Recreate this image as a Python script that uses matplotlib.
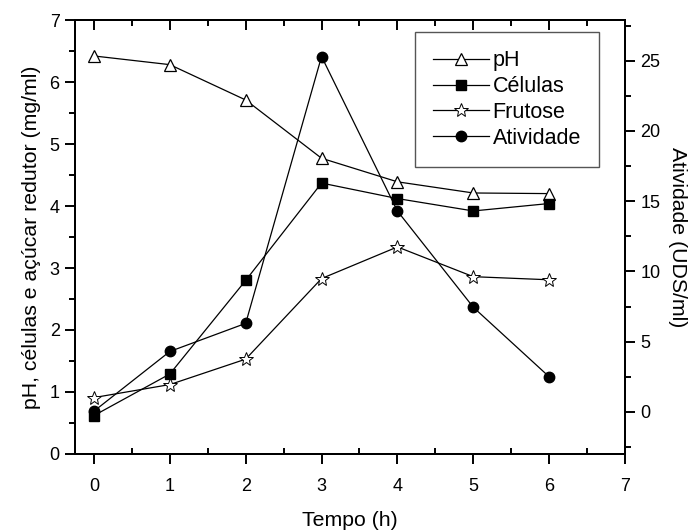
import matplotlib
matplotlib.use("Agg")
import matplotlib.pyplot as plt
from matplotlib.ticker import MultipleLocator

plt.rcParams['font.family'] = ['Liberation Sans', 'DejaVu Sans']

# data
tempo = [0, 1, 2, 3, 4, 5, 6]
ph = [6.42, 6.28, 5.71, 4.77, 4.39, 4.21, 4.20]
celulas = [0.62, 1.29, 2.80, 4.37, 4.12, 3.92, 4.04]
frutose = [0.91, 1.12, 1.53, 2.83, 3.34, 2.86, 2.81]
atividade = [0.05, 4.3, 6.3, 25.3, 14.3, 7.45, 2.5]

fig = plt.figure(figsize=(6.93, 5.31), dpi=100)
ax = fig.add_axes([75 / 693, 77 / 531, 550 / 693, 434 / 531])
ax2 = ax.twinx()

l1, = ax.plot(tempo, ph, '-^', color='black', lw=0.9, ms=8.5, mfc='white', mec='black', mew=0.9, label='pH')
l2, = ax.plot(tempo, celulas, '-s', color='black', lw=0.9, ms=6.5, mfc='black', label='Células')
l3, = ax.plot(tempo, frutose, '-*', color='black', lw=0.9, ms=10, mfc='white', mec='black', mew=0.7, label='Frutose')
l4, = ax2.plot(tempo, atividade, '-o', color='black', lw=0.9, ms=7.5, mfc='black', label='Atividade')

ax.set_xlim(-0.25, 7)
ax.set_ylim(0, 7)
ax2.set_ylim(-3, 27.9)

ax.xaxis.set_major_locator(MultipleLocator(1))
ax.xaxis.set_minor_locator(MultipleLocator(0.5))
ax.yaxis.set_major_locator(MultipleLocator(1))
ax.yaxis.set_minor_locator(MultipleLocator(0.5))
ax2.yaxis.set_major_locator(MultipleLocator(5))
ax2.yaxis.set_minor_locator(MultipleLocator(2.5))

for sp in ax.spines.values():
    sp.set_linewidth(1.4)
for sp in ax2.spines.values():
    sp.set_linewidth(1.4)

ax.tick_params(axis='x', which='major', direction='out', length=7, width=1.4, labelsize=13, pad=10, top=False)
ax.tick_params(axis='x', which='minor', direction='in', length=4, width=1.4, top=False)
ax.tick_params(axis='y', which='major', direction='out', length=7, width=1.4, labelsize=13, pad=4)
ax.tick_params(axis='y', which='minor', direction='out', length=4, width=1.4)
ax2.tick_params(axis='y', which='major', direction='out', length=7, width=1.4, labelsize=13, pad=4)
ax2.tick_params(axis='y', which='minor', direction='out', length=4, width=1.4)

# top axis ticks pointing inward
top = ax.secondary_xaxis('top')
top.xaxis.set_major_locator(MultipleLocator(1))
top.xaxis.set_minor_locator(MultipleLocator(0.5))
top.tick_params(which='major', direction='in', length=7, width=1.4, labeltop=False)
top.tick_params(which='minor', direction='in', length=4, width=1.4)
top.spines['top'].set_linewidth(1.4)

ax.set_xlabel('Tempo (h)', fontsize=15.3, labelpad=12)
ax.set_ylabel('pH, células e açúcar redutor (mg/ml)', fontsize=15.3, labelpad=6)
ax2.set_ylabel('Atividade (UDS/ml)', fontsize=15.3, rotation=270, labelpad=19)

leg = ax2.legend([l1, l2, l3, l4], ['pH', 'Células', 'Frutose', 'Atividade'],
                 loc='upper right', bbox_to_anchor=(0.953, 0.972), borderaxespad=0,
                 fontsize=15.5, handlelength=2.6, handletextpad=0.15, labelspacing=0.22,
                 fancybox=False, framealpha=1, edgecolor='#555555', borderpad=0.85)
leg.get_frame().set_linewidth(1.0)

fig.savefig('out.png', dpi=100)
